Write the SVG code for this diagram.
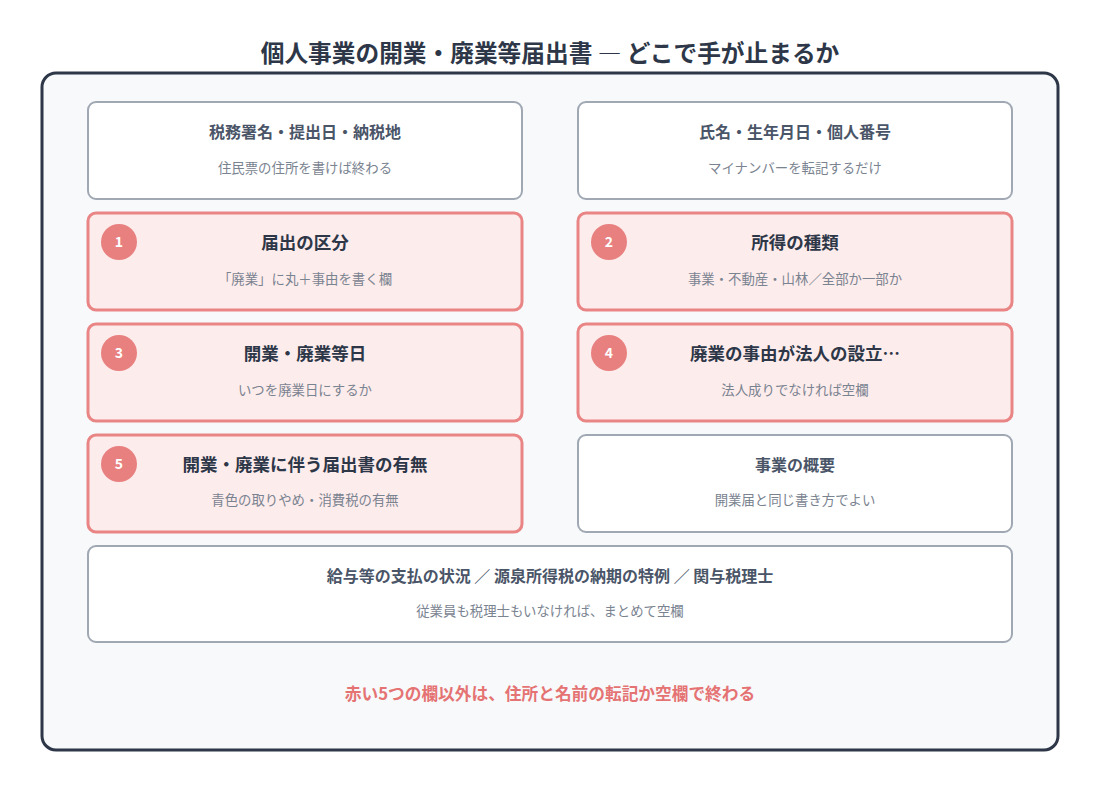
<svg xmlns="http://www.w3.org/2000/svg" width="1100" height="792" viewBox="0 0 1100 792">
<style>
text{font-family:"Noto Sans CJK JP","Noto Sans",sans-serif;text-anchor:middle}
.title{font-size:23.7px;font-weight:700;fill:#2d3748}
.card{fill:#ffffff;stroke:#a0a8b3;stroke-width:2}
.red{fill:#fdecec;stroke:#ea8585;stroke-width:3}
.h{font-size:16px;font-weight:700;fill:#4a5568}
.hr{font-size:17.5px;font-weight:700;fill:#2d3748}
.s{font-size:13.4px;fill:#7a8390}
.badge{fill:#e88080}
.bn{font-size:14px;font-weight:700;fill:#ffffff}
.note{font-size:16.7px;font-weight:700;fill:#e57373}
</style>
<rect width="1100" height="792" fill="#ffffff"/>
<text class="title" x="550" y="62">個人事業の開業・廃業等届出書 ― どこで手が止まるか</text>
<rect x="42" y="73" width="1016" height="677" rx="14" fill="#f7f9fb" stroke="#2d3748" stroke-width="3"/>
<g id="n-tax">
<rect class="card" x="88" y="102" width="434" height="97" rx="8"/>
<text class="h" x="305" y="138">税務署名・提出日・納税地</text>
<text class="s" x="305" y="173">住民票の住所を書けば終わる</text>
</g>
<g id="n-name">
<rect class="card" x="578" y="102" width="434" height="97" rx="8"/>
<text class="h" x="795" y="138">氏名・生年月日・個人番号</text>
<text class="s" x="795" y="173">マイナンバーを転記するだけ</text>
</g>
<g id="n1">
<rect class="red" x="88" y="213" width="434" height="97" rx="8"/>
<circle class="badge" cx="119" cy="242" r="18"/>
<text class="bn" x="119" y="247">1</text>
<text class="hr" x="305" y="249">届出の区分</text>
<text class="s" x="305" y="284">「廃業」に丸＋事由を書く欄</text>
</g>
<g id="n2">
<rect class="red" x="578" y="213" width="434" height="97" rx="8"/>
<circle class="badge" cx="609" cy="242" r="18"/>
<text class="bn" x="609" y="247">2</text>
<text class="hr" x="795" y="249">所得の種類</text>
<text class="s" x="795" y="284">事業・不動産・山林／全部か一部か</text>
</g>
<g id="n3">
<rect class="red" x="88" y="324" width="434" height="97" rx="8"/>
<circle class="badge" cx="119" cy="353" r="18"/>
<text class="bn" x="119" y="358">3</text>
<text class="hr" x="305" y="360">開業・廃業等日</text>
<text class="s" x="305" y="395">いつを廃業日にするか</text>
</g>
<g id="n4">
<rect class="red" x="578" y="324" width="434" height="97" rx="8"/>
<circle class="badge" cx="609" cy="353" r="18"/>
<text class="bn" x="609" y="358">4</text>
<text class="hr" x="795" y="360">廃業の事由が法人の設立…</text>
<text class="s" x="795" y="395">法人成りでなければ空欄</text>
</g>
<g id="n5">
<rect class="red" x="88" y="435" width="434" height="97" rx="8"/>
<circle class="badge" cx="119" cy="464" r="18"/>
<text class="bn" x="119" y="469">5</text>
<text class="hr" x="305" y="471">開業・廃業に伴う届出書の有無</text>
<text class="s" x="305" y="505">青色の取りやめ・消費税の有無</text>
</g>
<g id="n-overview">
<rect class="card" x="578" y="435" width="434" height="97" rx="8"/>
<text class="h" x="795" y="471">事業の概要</text>
<text class="s" x="795" y="505">開業届と同じ書き方でよい</text>
</g>
<g id="n-salary">
<rect class="card" x="88" y="546" width="924" height="96" rx="8"/>
<text class="h" x="550" y="582">給与等の支払の状況 ／ 源泉所得税の納期の特例 ／ 関与税理士</text>
<text class="s" x="550" y="616">従業員も税理士もいなければ、まとめて空欄</text>
</g>
<g id="connectors"></g>
<text class="note" x="550" y="700">赤い5つの欄以外は、住所と名前の転記か空欄で終わる</text>
</svg>
